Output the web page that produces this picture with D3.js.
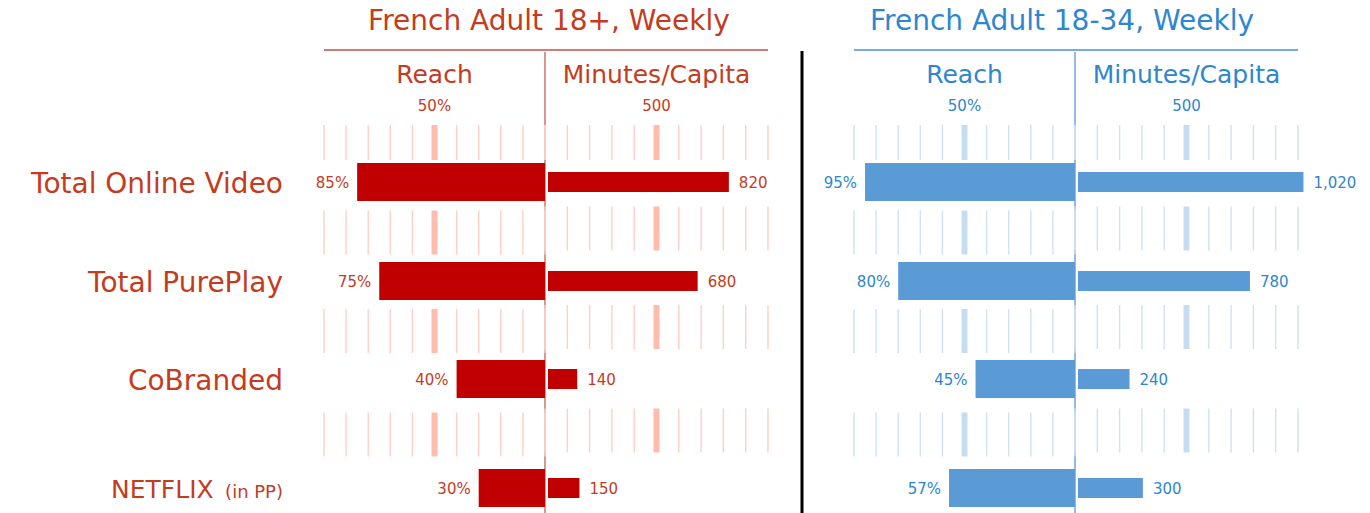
<!DOCTYPE html>
<html>
<head>
<meta charset="utf-8">
<script src="https://cdn.jsdelivr.net/npm/d3@7"></script>
<style>
  body { margin: 0; background: #fff; }
  text { font-family: "DejaVu Sans", sans-serif; }
</style>
</head>
<body>
<div id="chart"></div>
<script>
// chart values
var categories = ["Total Online Video", "Total PurePlay", "CoBranded", "NETFLIX"];
var reachAdult = [85, 75, 40, 30];
var minutesAdult = [820, 680, 140, 150];
var reachYoung = [95, 80, 45, 57];
var minutesYoung = [1020, 780, 240, 300];
var panelTitles = ["French Adult 18+, Weekly", "French Adult 18-34, Weekly"];
var halfTitles = ["Reach", "Minutes/Capita"];
var reachMarkLabel = "50%";
var minutesMarkLabel = "500";

var width = 1370, height = 513;

var svg = d3.select("#chart").append("svg")
  .attr("width", width)
  .attr("height", height);

// row positions
var y = d3.scaleOrdinal()
  .domain(categories)
  .range([182, 281, 379, 488]);

// row labels on the left
var lab = svg.append("g").attr("class", "row-labels");
categories.forEach(function(c) {
  var t = lab.append("text")
    .attr("x", 283)
    .attr("y", y(c))
    .attr("dy", "0.38em")
    .attr("text-anchor", "end")
    .style("fill", "#C43B1E");
  if (c == "NETFLIX") {
    t.style("font-size", "25px").text(c);
    t.append("tspan").style("font-size", "18px").text("\u00a0\u00a0(in PP)");
  } else {
    t.style("font-size", "28px").text(c);
  }
});

// black divider
svg.append("line")
  .attr("x1", 802).attr("x2", 802)
  .attr("y1", 51).attr("y2", height)
  .style("stroke", "#000").style("stroke-width", 3);

function drawPanel(opt) {
  var g = svg.append("g");
  var ax = opt.axisX;

  var xr = d3.scaleLinear().domain([0, 100]).range([ax, ax - 221]);
  var xm = d3.scaleLinear().domain([0, 1000]).range([ax, ax + 223]);

  // title + underline
  g.append("text")
    .attr("x", opt.titleX)
    .attr("y", 30)
    .attr("text-anchor", "middle")
    .style("font-size", "28px")
    .style("fill", opt.text)
    .text(opt.title);
  g.append("line")
    .attr("x1", xr(100)).attr("x2", xm(1000))
    .attr("y1", 50).attr("y2", 50)
    .style("stroke", opt.line).style("stroke-width", 1.3);

  // half headers
  g.append("text")
    .attr("x", xr(50)).attr("y", 83)
    .attr("text-anchor", "middle")
    .style("font-size", "25px").style("fill", opt.text)
    .text(halfTitles[0]);
  g.append("text")
    .attr("x", xm(500)).attr("y", 83)
    .attr("text-anchor", "middle")
    .style("font-size", "25px").style("fill", opt.text)
    .text(halfTitles[1]);
  g.append("text")
    .attr("x", xr(50)).attr("y", 111)
    .attr("text-anchor", "middle")
    .style("font-size", "15px").style("fill", opt.text)
    .text(reachMarkLabel);
  g.append("text")
    .attr("x", xm(500)).attr("y", 111)
    .attr("text-anchor", "middle")
    .style("font-size", "15px").style("fill", opt.text)
    .text(minutesMarkLabel);

  // central axis
  g.append("line")
    .attr("x1", ax).attr("x2", ax)
    .attr("y1", 52).attr("y2", height)
    .style("stroke", opt.line).style("stroke-width", 1.2);

  // tick bands: one above first row and one between each pair of rows
  var bands = [{top: 125, bottom: y(categories[0]) - 22, shift: 0}];
  for (var i = 0; i < categories.length - 1; i++) {
    var mid = (y(categories[i]) + y(categories[i + 1])) / 2 + 1;
    bands.push({top: mid - 22, bottom: mid + 22, shift: -4});
  }

  function drawTicks(scale, vals, mark, shift) {
    bands.forEach(function(b) {
      var s = b.shift * shift;
      g.selectAll(null)
        .data(vals)
        .enter().append("line")
        .attr("x1", function(d) { return scale(d); })
        .attr("x2", function(d) { return scale(d); })
        .attr("y1", b.top + s)
        .attr("y2", b.bottom + s)
        .style("stroke", function(d) { return d == mark ? opt.tickMark : opt.tick; })
        .style("stroke-width", function(d) { return d == mark ? 6 : 1.4; });
    });
  }
  drawTicks(xr, xr.ticks(10), 50, 0);
  drawTicks(xm, xm.ticks(10), 500, 1);

  // reach bars (to the left)
  g.selectAll(".reach")
    .data(opt.reach)
    .enter().append("rect")
    .attr("class", "reach")
    .attr("x", function(d) { return xr(d); })
    .attr("y", function(d, i) { return y(categories[i]) - 19; })
    .attr("width", function(d) { return ax - xr(d); })
    .attr("height", 38)
    .style("fill", opt.bar);

  g.selectAll(".reach-lbl")
    .data(opt.reach)
    .enter().append("text")
    .attr("x", function(d) { return xr(d) - 8; })
    .attr("y", function(d, i) { return y(categories[i]); })
    .attr("dy", "0.38em")
    .attr("text-anchor", "end")
    .style("font-size", "15px").style("fill", opt.text)
    .text(function(d) { return d + "%"; });

  // minutes bars (to the right)
  g.selectAll(".mins")
    .data(opt.minutes)
    .enter().append("rect")
    .attr("class", "mins")
    .attr("x", ax + 3)
    .attr("y", function(d, i) { return y(categories[i]) - 10; })
    .attr("width", function(d) { return xm(d) - ax - 2; })
    .attr("height", 20)
    .style("fill", opt.bar);

  g.selectAll(".mins-lbl")
    .data(opt.minutes)
    .enter().append("text")
    .attr("x", function(d) { return xm(d) + 11; })
    .attr("y", function(d, i) { return y(categories[i]); })
    .attr("dy", "0.38em")
    .style("font-size", "15px").style("fill", opt.text)
    .text(function(d) { return d3.format(",")(d); });
}

drawPanel({
  axisX: 545, titleX: 549, title: panelTitles[0],
  reach: reachAdult, minutes: minutesAdult,
  text: "#C43B1E", line: "#C0504D", bar: "#C00000",
  tick: "#FFCFC6", tickMark: "#FFBCAD"
});

drawPanel({
  axisX: 1075, titleX: 1062, title: panelTitles[1],
  reach: reachYoung, minutes: minutesYoung,
  text: "#2E86D0", line: "#4A90D2", bar: "#5B9BD5",
  tick: "#CFE1F3", tickMark: "#C6DCF1"
});
</script>
</body>
</html>
